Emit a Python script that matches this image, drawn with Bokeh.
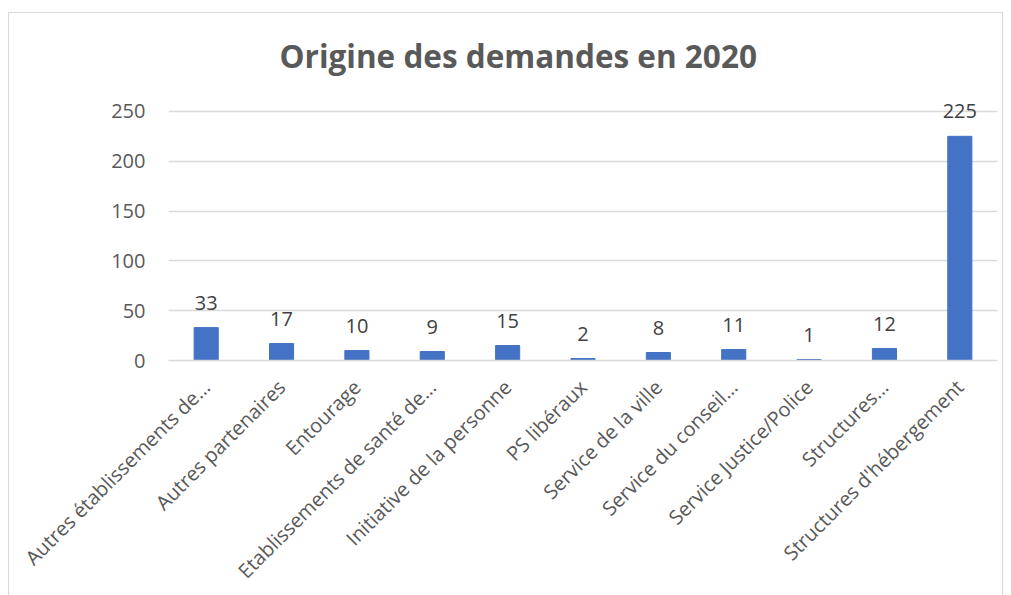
import math
from bokeh.plotting import figure
from bokeh.models import ColumnDataSource, LabelSet, Range1d, FixedTicker
from bokeh.core.properties import value
from bokeh.embed import file_html
from bokeh.resources import INLINE

categories = [
    "Autres établissements de…",
    "Autres partenaires",
    "Entourage",
    "Etablissements de santé de…",
    "Initiative de la personne",
    "PS libéraux",
    "Service de la ville",
    "Service du conseil…",
    "Service Justice/Police",
    "Structures…",
    "Structures d'hébergement",
]
values = [33, 17, 10, 9, 15, 2, 8, 11, 1, 12, 225]
y_ticks = [0, 50, 100, 150, 200, 250]

FONT = "Open Sans"
GRAY = "#595959"

n = len(categories)
idx = list(range(n))
src = ColumnDataSource(dict(x=idx, cat=categories, val=values, lab=[str(v) for v in values]))

p = figure(
    x_range=Range1d(-0.5, n - 0.5), y_range=Range1d(0, 275),
    width=995, height=583, output_backend="svg", toolbar_location=None,
    min_border_left=159, min_border_right=7, min_border_top=73, min_border_bottom=236,
    title="Origine des demandes en 2020",
)
p.styles = {"border": "1px solid #D9D9D9", "border-bottom": "none",
            "margin-left": "8px", "margin-top": "12px"}

p.title.align = "left"
p.title.offset = 111
p.title.text_font = FONT
p.title.text_font_size = "31.5px"
p.title.text_font_style = "bold"
p.title.text_color = GRAY
p.title.standoff = 20

p.vbar(x="x", top="val", width=0.32, color="#4472C4", source=src)

labels = LabelSet(x="x", y="val", text="lab", source=src, text_align="center",
                  text_baseline="alphabetic", y_offset=18, text_font=value(FONT),
                  text_font_size="20px", text_color="#404040")
p.add_layout(labels)

p.outline_line_color = None
p.xgrid.grid_line_color = None
p.ygrid.grid_line_color = "#D9D9D9"
p.ygrid.grid_line_width = 1.5
p.yaxis.ticker = y_ticks
p.yaxis.axis_line_color = None
p.yaxis.major_tick_line_color = None
p.yaxis.minor_tick_line_color = None
p.yaxis.major_label_text_font = FONT
p.yaxis.major_label_text_font_size = "20px"
p.yaxis.major_label_text_color = GRAY
p.yaxis.major_label_standoff = 17

p.xaxis.ticker = FixedTicker(ticks=idx)
p.xaxis.major_label_overrides = {i: c for i, c in enumerate(categories)}
p.xaxis.axis_line_color = "#D9D9D9"
p.xaxis.axis_line_width = 1.5
p.xaxis.major_tick_line_color = None
p.xaxis.minor_tick_line_color = None
p.xaxis.major_label_orientation = math.pi / 4
p.xaxis.major_label_text_font = FONT
p.xaxis.major_label_text_font_size = "20px"
p.xaxis.major_label_text_color = GRAY
p.xaxis.major_label_standoff = 17

open("out.html", "w").write(file_html(p, INLINE))
